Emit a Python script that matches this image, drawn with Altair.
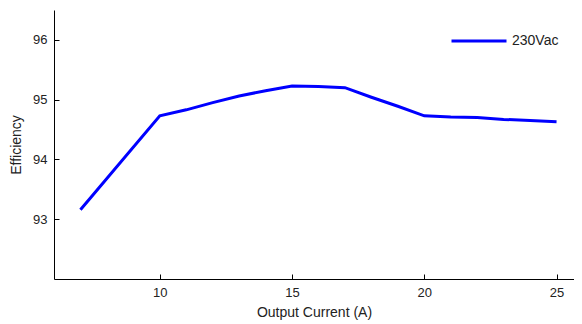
import altair as alt
import pandas as pd

current = [7, 10, 11, 12, 13, 14, 15, 16, 17, 18, 19, 20, 21, 22, 23, 24, 25]
efficiency = [93.16, 94.73, 94.83, 94.95, 95.06, 95.15, 95.23, 95.22, 95.2, 95.04, 94.89, 94.73, 94.71, 94.70, 94.67, 94.65, 94.63]
series = ["230Vac"] * len(current)
x_ticks = [10, 15, 20, 25]
y_ticks = [93, 94, 95, 96]

df = pd.DataFrame({"current": current, "efficiency": efficiency, "series": series})

W, H = 520, 269
FONT = "Liberation Sans"

xs = alt.Scale(domain=[6, 25.66], nice=False, zero=False)
ys = alt.Scale(domain=[92, 96.5], nice=False, zero=False)

main = alt.Chart(df).mark_line(strokeWidth=3, clip=True).encode(
    x=alt.X("current:Q", scale=xs,
            axis=alt.Axis(orient="bottom", values=x_ticks, title="Output Current (A)",
                          ticks=False, tickSize=0, labelPadding=7, grid=False,
                          domainColor="black", labelColor="#222", titleColor="#222",
                          labelFontSize=13, titleFontSize=14, titleFontWeight="normal",
                          labelFont=FONT, titleFont=FONT, titlePadding=6)),
    y=alt.Y("efficiency:Q", scale=ys,
            axis=alt.Axis(orient="left", values=y_ticks, title="Efficiency",
                          ticks=False, tickSize=0, labelPadding=7, grid=False,
                          domainColor="black", labelColor="#222", titleColor="#222",
                          labelFontSize=13, titleFontSize=14, titleFontWeight="normal",
                          labelFont=FONT, titleFont=FONT, titlePadding=9)),
    color=alt.Color("series:N", scale=alt.Scale(range=["#0000ff"]),
                    legend=alt.Legend(title=None, orient="none", legendX=396, legendY=2,
                                      symbolType="stroke", symbolSize=3025, symbolStrokeWidth=3,
                                      labelFontSize=14, labelFont=FONT, labelColor="#222",
                                      labelOffset=4, padding=0)),
)

ticks_layer = alt.Chart(df).mark_line(opacity=0).encode(
    x=alt.X("current:Q", scale=xs,
            axis=alt.Axis(orient="top", offset=-H, values=x_ticks, title="", labels=False,
                          domain=False, tickSize=5, tickColor="black", grid=False)),
    y=alt.Y("efficiency:Q", scale=ys,
            axis=alt.Axis(orient="right", offset=-W, values=y_ticks, title="", labels=False,
                          domain=False, tickSize=5, tickColor="black", grid=False)),
)

chart = alt.layer(main, ticks_layer).resolve_axis(x="independent", y="independent").properties(
    width=W, height=H,
    autosize=alt.AutoSizeParams(type="none"),
    padding={"left": 46, "top": 2, "right": 0, "bottom": 45},
).configure_view(stroke=None).configure_axis(domainWidth=1)

chart.save("out.html", embed_options={"renderer": "svg", "actions": False})
